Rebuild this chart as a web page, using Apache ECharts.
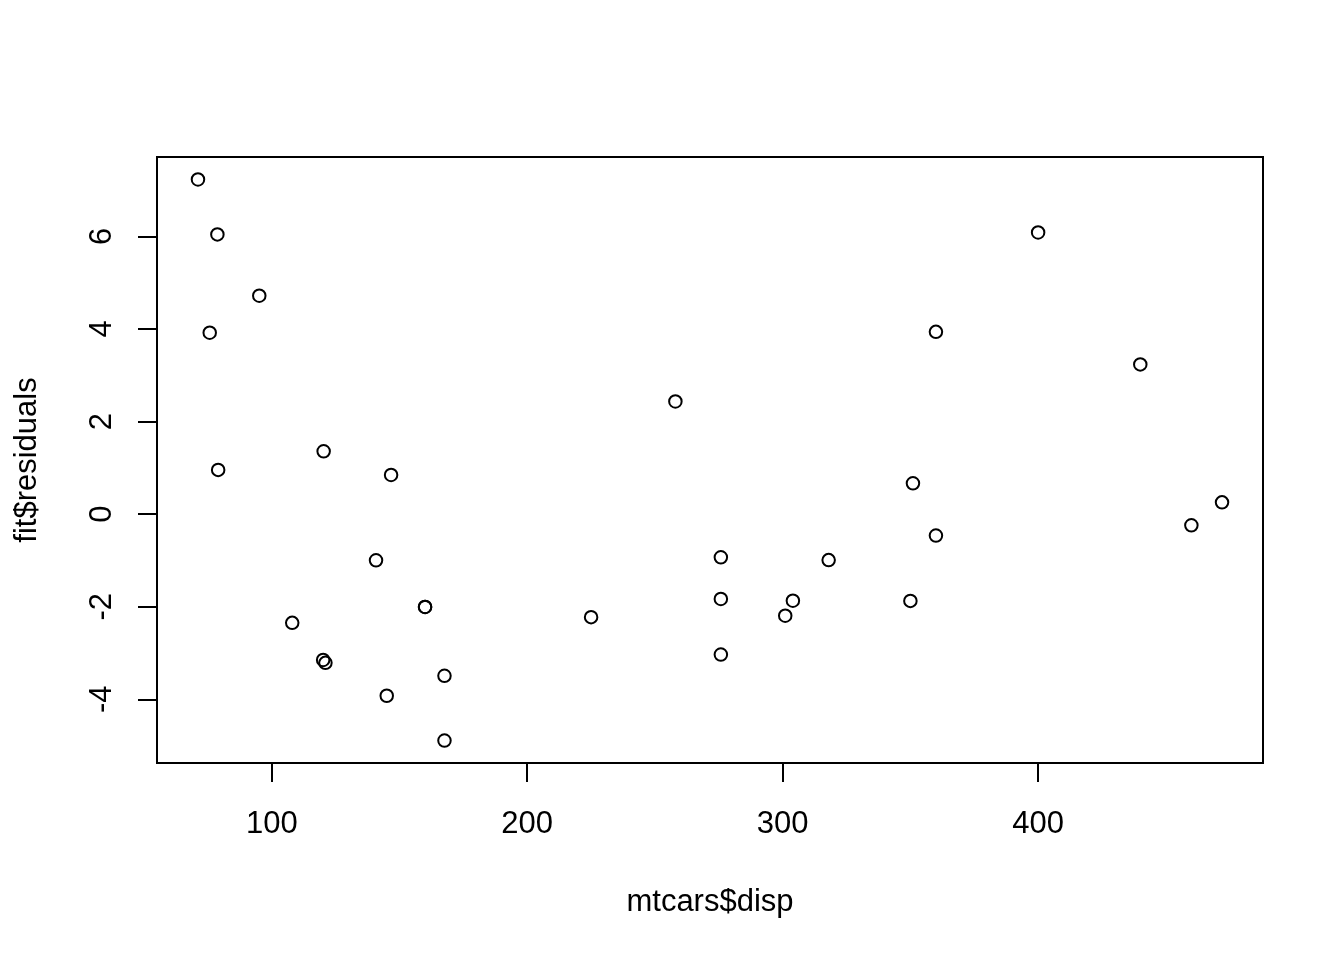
<!DOCTYPE html>
<html>
<head>
<meta charset="utf-8">
<script src="https://cdn.jsdelivr.net/npm/echarts@6/dist/echarts.min.js"></script>
<style>
  html, body { margin: 0; padding: 0; background: #fff; }
  #chart { width: 1344px; height: 960px; }
</style>
</head>
<body>
<div id="chart"></div>
<script>
// mtcars$disp
var disp = [160, 160, 108, 258, 360, 225, 360, 146.7, 140.8, 167.6, 167.6,
  275.8, 275.8, 275.8, 472, 460, 440, 78.7, 75.7, 71.1, 120.1, 318, 304,
  350, 400, 79, 120.3, 95.1, 351, 145, 301, 121];
// fit$residuals
var residuals = [-2.005, -2.005, -2.349, 2.434, 3.938, -2.226, -0.462, 0.846,
  -0.997, -3.492, -4.892, -1.833, -0.933, -3.033, 0.254, -0.241, 3.235,
  6.044, 3.920, 7.231, -3.150, -0.993, -1.870, -1.875, 6.086, 0.956, 1.358,
  4.720, 0.667, -3.924, -2.194, -3.213];
var xTicks = [100, 200, 300, 400];
var yTicks = [-4, -2, 0, 2, 4, 6];

var font = 'Liberation Sans, Arial, sans-serif';
var points = disp.map(function (d, i) { return [d, residuals[i]]; });

var chart = echarts.init(document.getElementById('chart'));
chart.setOption({
  backgroundColor: '#fff',
  animation: false,
  grid: {
    left: 157, right: 81, top: 157, bottom: 197,
    show: true, borderColor: '#000', borderWidth: 2,
    backgroundColor: 'transparent'
  },
  xAxis: {
    type: 'value',
    min: 55.06, max: 488.04,
    name: 'mtcars$disp',
    nameLocation: 'middle',
    nameGap: 124,
    nameTextStyle: { color: '#000', fontSize: 31, fontFamily: font },
    splitLine: { show: false },
    axisLine: { show: false, onZero: false },
    axisTick: { show: true, length: 19, lineStyle: { color: '#000', width: 2 }, customValues: xTicks },
    axisLabel: { color: '#000', fontSize: 31, fontFamily: font, margin: 46, customValues: xTicks }
  },
  yAxis: {
    type: 'value',
    min: -5.377, max: 7.716,
    name: 'fit$residuals',
    nameLocation: 'middle',
    nameGap: 114,
    nameRotate: 90,
    nameTextStyle: { color: '#000', fontSize: 31, fontFamily: font },
    splitLine: { show: false },
    axisLine: { show: false, onZero: false },
    axisTick: { show: true, length: 19, lineStyle: { color: '#000', width: 2 }, customValues: yTicks },
    axisLabel: { color: '#000', fontSize: 31, fontFamily: font, margin: 39, rotate: 90, customValues: yTicks }
  },
  series: [{
    type: 'scatter',
    data: points,
    symbol: 'circle',
    symbolSize: 12.5,
    itemStyle: { color: 'transparent', borderColor: '#000', borderWidth: 2, opacity: 1 }
  }]
});
</script>
</body>
</html>
